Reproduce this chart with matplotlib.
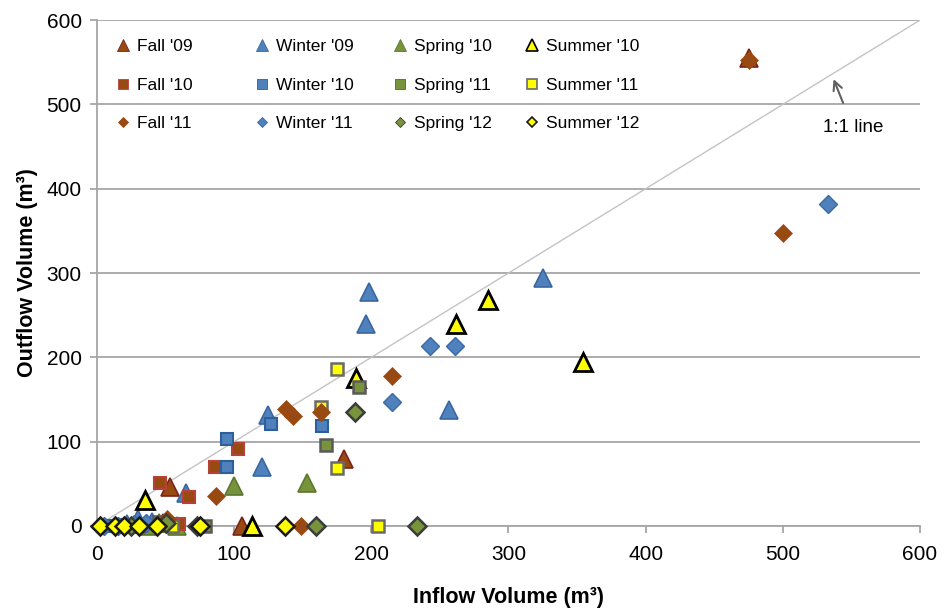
import matplotlib
matplotlib.use("Agg")
import matplotlib.pyplot as plt
from matplotlib.lines import Line2D

plt.rcParams['font.family'] = ['Liberation Sans', 'DejaVu Sans']

# Inflow / outflow volumes (m3) per season
fall09_in = [475, 180, 53, 106, 48]
fall09_out = [555, 80, 46, 0, 4]
winter09_in = [198, 196, 325, 257, 125, 120, 65, 40, 30, 22]
winter09_out = [278, 240, 294, 138, 132, 70, 39, 5, 8, 2]
spring10_in = [100, 153, 58, 45, 38]
spring10_out = [48, 51, 0, 3, 0]
summer10_in = [285, 262, 354, 189, 35, 113]
summer10_out = [268, 240, 195, 175, 31, 0]
fall10_in = [46, 67, 86, 103, 60]
fall10_out = [51, 34, 70, 91, 2]
winter10_in = [95, 95, 127, 164, 10, 20]
winter10_out = [103, 70, 121, 119, 0, 1]
spring11_in = [191, 167, 79, 45, 30]
spring11_out = [165, 96, 0, 5, 0]
summer11_in = [175, 163, 175, 205, 55]
summer11_out = [186, 141, 69, 0, 0]
fall11_in = [475, 500, 215, 138, 143, 163, 87, 149, 51]
fall11_out = [553, 348, 178, 139, 130, 135, 36, 0, 8]
winter11_in = [533, 243, 261, 215, 5, 15, 27, 36]
winter11_out = [382, 214, 214, 147, 0, 0, 2, 4]
spring12_in = [188, 160, 233, 73, 50, 25]
spring12_out = [135, 0, 0, 0, 3, 0]
summer12_in = [2, 13, 20, 31, 44, 75, 137]
summer12_out = [0, 0, 0, 0, 0, 0, 0]

BROWN = '#994a12'
BLUE = '#4f81bd'
GREEN = '#77933c'
YELLOW = '#ffff00'

series = [
    ("Fall '09", fall09_in, fall09_out, '^', BROWN, '#7a2418', 1.2, 13),
    ("Winter '09", winter09_in, winter09_out, '^', BLUE, '#3a67a0', 1.2, 13),
    ("Spring '10", spring10_in, spring10_out, '^', GREEN, '#5d7630', 1.2, 13),
    ("Summer '10", summer10_in, summer10_out, '^', YELLOW, '#000000', 2.0, 13),
    ("Fall '10", fall10_in, fall10_out, 's', BROWN, '#b5423a', 1.5, 8),
    ("Winter '10", winter10_in, winter10_out, 's', BLUE, '#2f5f98', 1.5, 8),
    ("Spring '11", spring11_in, spring11_out, 's', GREEN, '#5a5a5a', 1.8, 8),
    ("Summer '11", summer11_in, summer11_out, 's', YELLOW, '#6a6a6a', 1.8, 8),
    ("Fall '11", fall11_in, fall11_out, 'D', BROWN, BROWN, 0.5, 9.2),
    ("Winter '11", winter11_in, winter11_out, 'D', BLUE, '#3a6aa5', 1.0, 9.2),
    ("Spring '12", spring12_in, spring12_out, 'D', GREEN, '#3c3c3c', 1.8, 9.2),
    ("Summer '12", summer12_in, summer12_out, 'D', YELLOW, '#1a1a1a', 1.8, 9.2),
]

fig = plt.figure(figsize=(9.46, 6.09), dpi=100)
ax = fig.add_axes([0.1025, 0.1363, 0.87, 0.8307])

ax.set_xlim(0, 600)
ax.set_ylim(0, 600)

GRID = '#a6a6a6'
ax.set_yticks(range(0, 601, 100))
ax.set_xticks(range(0, 601, 100))
ax.yaxis.grid(True, color=GRID, linewidth=1.3, zorder=0)
ax.set_axisbelow(True)
for side in ('top', 'right'):
    ax.spines[side].set_visible(False)
for side in ('left', 'bottom'):
    ax.spines[side].set_color(GRID)
    ax.spines[side].set_linewidth(1.3)
ax.tick_params(axis='both', direction='out', length=5, color=GRID, width=1.3,
               labelsize=15, labelcolor='#000000', pad=6)
ax.tick_params(axis='x', pad=9)

# 1:1 reference line
ax.plot([0, 600], [0, 600], color='#c4c4c4', linewidth=1.0, zorder=1)

for i, (name, xs, ys, mk, fc, ec, lw, ms) in enumerate(series):
    ax.plot(xs, ys, linestyle='none', marker=mk, markersize=ms,
            markerfacecolor=fc, markeredgecolor=ec, markeredgewidth=lw,
            clip_on=False, zorder=3 + i)

ax.annotate('1:1 line', xy=(537, 530), xytext=(551, 473),
            ha='center', va='center', fontsize=13.5,
            arrowprops=dict(arrowstyle='->', color='#606060', lw=1.5,
                            shrinkA=10, shrinkB=0, mutation_scale=16))

ax.set_xlabel('Inflow Volume (m³)', fontsize=15.5, fontweight='bold', labelpad=16)
ax.set_ylabel('Outflow Volume (m³)', fontsize=15.5, fontweight='bold', labelpad=6)

# legend: four evenly spaced columns, three rows each
handles = []
for name, xs, ys, mk, fc, ec, lw, ms in series:
    lms = {'^': 8, 's': 6.5, 'D': 5.0}[mk]
    lew = 1.2 if fc == YELLOW else 0.6
    handles.append(Line2D([], [], linestyle='none', marker=mk, markersize=lms,
                          markerfacecolor=fc, markeredgecolor=ec,
                          markeredgewidth=lew, label=name))

W, H = 946.0, 609.0
col_x = [116, 255, 393, 525]
for c in range(4):
    hs = [handles[c], handles[c + 4], handles[c + 8]]
    leg = fig.legend(hs, [h.get_label() for h in hs], ncol=1, frameon=False,
                     loc='upper left',
                     bbox_to_anchor=(col_x[c] / W, 1 - 39 / H),
                     bbox_transform=fig.transFigure,
                     fontsize=12.5, handlelength=0.8, handletextpad=0.4,
                     labelspacing=1.35, borderpad=0, borderaxespad=0)

fig.savefig('out.png', dpi=100)
